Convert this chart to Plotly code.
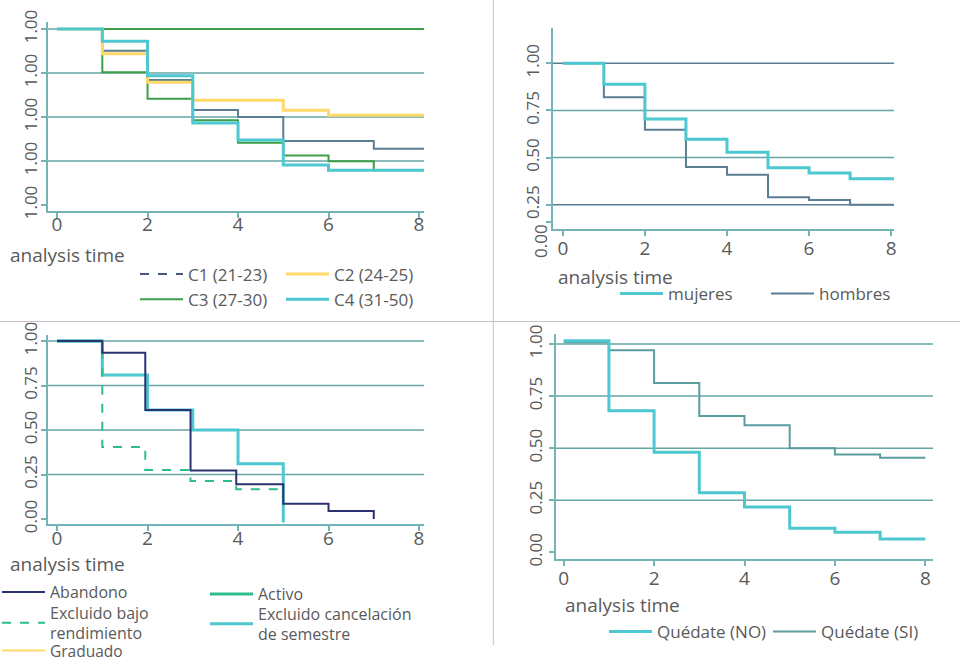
import plotly.graph_objects as go

# ---------------- data ----------------
# Top-left: age cohorts
tl_time = [0, 1, 2, 3, 4, 5, 6, 7, 8.11]
tl_c1 = [1.0, 0.877, 0.71, 0.54, 0.50, 0.364, 0.364, 0.32, 0.32]
tl_c2 = [1.0, 0.86, 0.697, 0.595, 0.595, 0.538, 0.51, 0.51, 0.51]
tl_c3 = [1.0, 0.754, 0.604, 0.481, 0.354, 0.282, 0.248, 0.197, 0.197]
tl_c4 = [1.0, 0.93, 0.735, 0.466, 0.37, 0.227, 0.197, 0.197, 0.197]
tl_c3_top_time = [0, 8.11]
tl_c3_top = [1.0, 1.0]
tl_names = ["C1 (21-23)", "C2 (24-25)", "C3 (27-30)", "C4 (31-50)"]
tl_ytick_vals = [0, 0.25, 0.5, 0.75, 1.0]
tl_ytick_text = ["1.00", "1.00", "1.00", "1.00", "1.00"]

# Top-right: sex
tr_time = [0, 1, 2, 3, 4, 5, 6, 7, 8.07]
tr_mujeres = [1.0, 0.889, 0.705, 0.597, 0.528, 0.446, 0.418, 0.388, 0.388]
tr_hombres = [1.0, 0.82, 0.648, 0.45, 0.409, 0.29, 0.275, 0.25, 0.25]
tr_ytick_vals = [0.16, 0.25, 0.5, 0.75, 1.0]
tr_ytick_text = ["0.00", "0.25", "0.50", "0.75", "1.00"]

# Bottom-left: status
bl_abandono_t = [0, 1, 1.95, 2.95, 3.96, 5, 6, 7]
bl_abandono = [1.0, 0.934, 0.612, 0.273, 0.195, 0.086, 0.045, 0.0]
bl_bajo_t = [0, 1, 1.95, 2.95, 3.96, 5]
bl_bajo = [1.0, 0.404, 0.275, 0.213, 0.167, 0.167]
bl_cancel_t = [0, 1, 2, 3, 4, 5]
bl_cancel = [1.0, 0.809, 0.612, 0.5, 0.311, -0.02]
bl_activo_t = [0, 1]
bl_activo = [1.0, 1.0]
bl_graduado_t = [0, 1]
bl_graduado = [1.0, 1.0]

# Bottom-right: Quédate
br_time = [0, 1, 2, 3, 4, 5, 6, 7, 8]
br_no = [1.016, 0.68, 0.48, 0.286, 0.217, 0.115, 0.096, 0.064, 0.064]
br_si = [1.008, 0.97, 0.813, 0.654, 0.61, 0.50, 0.469, 0.454, 0.454]

std_ytick_vals = [0, 0.25, 0.5, 0.75, 1.0]
std_ytick_text = ["0.00", "0.25", "0.50", "0.75", "1.00"]
xtick_vals = [0, 2, 4, 6, 8]
grid_vals = [0.25, 0.5, 0.75, 1.0]

# ---------------- style ----------------
CYAN = "#4ec8d0"
NAVY = "#2c3270"
SLATE = "#5b7e93"
YELLOW = "#ffd96a"
GREEN = "#3c9f48"
MINT = "#2dbd88"
TEAL_SI = "#5b9c9e"
GRID = "#66a4a6"
AXIS = "#74b4b6"
TXT = "#5a5a5a"
FONT = "Open Sans"

fig = go.Figure()


def step(x, y, xa, ya, name, color, width, legend, dash="solid", showlegend=True, rank=1000):
    fig.add_trace(go.Scatter(x=x, y=y, mode="lines", line_shape="hv", name=name,
                             line=dict(color=color, width=width, dash=dash),
                             xaxis=xa, yaxis=ya, legend=legend, legendrank=rank,
                             showlegend=showlegend, hoverinfo="skip"))


# top-left
step(tl_c3_top_time, tl_c3_top, "x", "y", "", GREEN, 2, "legend", showlegend=False)
step(tl_time, tl_c3, "x", "y", tl_names[2], GREEN, 2, "legend", rank=2)
step(tl_time, tl_c1, "x", "y", tl_names[0], SLATE, 2, "legend", showlegend=False)
step(tl_time, tl_c2, "x", "y", tl_names[1], YELLOW, 3, "legend2", rank=1)
step(tl_time, tl_c4, "x", "y", tl_names[3], CYAN, 3, "legend2", rank=2)
# legend-only entry for C1 (dashed)
fig.add_trace(go.Scatter(x=[None], y=[None], mode="lines", name=tl_names[0],
                         line=dict(color="#4a5584", width=2, dash="dash"),
                         xaxis="x", yaxis="y", legend="legend", legendrank=1))

# top-right
step(tr_time, tr_hombres, "x2", "y2", "hombres", SLATE, 2, "legend4")
step(tr_time, tr_mujeres, "x2", "y2", "mujeres", CYAN, 3, "legend3")

# bottom-left
step(bl_graduado_t, bl_graduado, "x3", "y3", "Graduado", YELLOW, 2, "legend10")
step(bl_activo_t, bl_activo, "x3", "y3", "Activo", MINT, 3, "legend6")
step(bl_cancel_t, bl_cancel, "x3", "y3", "Excluido cancelación<br>de semestre", CYAN, 3, "legend11")
step(bl_bajo_t, bl_bajo, "x3", "y3", "Excluido bajo<br>rendimiento", MINT, 2, "legend9", dash="dash")
step(bl_abandono_t, bl_abandono, "x3", "y3", "Abandono", NAVY, 2, "legend5")

# bottom-right
step(br_time, br_si, "x4", "y4", "Quédate (SI)", TEAL_SI, 2, "legend8")
step(br_time, br_no, "x4", "y4", "Quédate (NO)", CYAN, 3, "legend7")

# ---------------- axes ----------------
W, H = 960, 660


def px_x(a, b):
    return [a / W, b / W]


def px_y(top, bottom):
    return [1 - bottom / H, 1 - top / H]


def xaxis(domain, rng, anchor, standoff):
    return dict(domain=domain, range=rng, anchor=anchor, tickvals=xtick_vals, automargin=False,
                showgrid=False, zeroline=False, showline=True, linecolor=AXIS, linewidth=1.5,
                ticks="outside", ticklen=5, tickwidth=1.5, tickcolor=AXIS,
                ticklabelstandoff=standoff,
                tickfont=dict(size=19, color=TXT, family=FONT))


def yaxis(domain, rng, anchor, vals, text, standoff=0):
    return dict(domain=domain, range=rng, anchor=anchor, tickvals=vals, ticktext=text,
                automargin=False, ticklabelstandoff=standoff,
                tickangle=-90, showgrid=False, zeroline=False, showline=True,
                linecolor=AXIS, linewidth=1.5, ticks="outside", ticklen=5, tickwidth=1.5,
                tickcolor=AXIS, tickfont=dict(size=17, color=TXT, family=FONT))


tr_text_axis = [""] + tr_ytick_text[1:]

fig.update_layout(
    xaxis=xaxis(px_x(48, 424), [-0.2, 8.11], "y", -10),
    yaxis=yaxis(px_y(22, 211), [-0.034, 1.04], "x", tl_ytick_vals, tl_ytick_text, -3),
    xaxis2=xaxis(px_x(553, 894), [-0.24, 8.07], "y2", -4),
    yaxis2=yaxis(px_y(28, 229), [0.121, 1.187], "x2", tr_ytick_vals, tr_text_axis),
    xaxis3=xaxis(px_x(48, 424), [-0.2, 8.11], "y3", -9),
    yaxis3=yaxis(px_y(335, 524), [-0.028, 1.034], "x3", std_ytick_vals, std_ytick_text, -3),
    xaxis4=xaxis(px_x(556, 933), [-0.17, 8.17], "y4", -4),
    yaxis4=yaxis(px_y(334, 559), [-0.032, 1.048], "x4", std_ytick_vals, std_ytick_text),
)

# gridlines as shapes (no line at 0)
shapes = []
grid_colors = {"x": [GRID] * 4, "x2": [SLATE, GRID, GRID, SLATE], "x3": [GRID] * 4, "x4": [GRID] * 4}
for xa, ya in [("x", "y"), ("x2", "y2"), ("x3", "y3"), ("x4", "y4")]:
    for g, c in zip(grid_vals, grid_colors[xa]):
        shapes.append(dict(type="line", xref=f"{xa} domain", yref=ya, x0=0, x1=1, y0=g, y1=g,
                           line=dict(color=c, width=1.5), layer="below"))
# panel dividers
shapes.append(dict(type="line", xref="paper", yref="paper", x0=0, x1=1, y0=1 - 321.5 / H, y1=1 - 321.5 / H,
                   line=dict(color="#c4c4c4", width=1)))
shapes.append(dict(type="line", xref="paper", yref="paper", x0=493.3 / W, x1=493.3 / W, y0=1, y1=1 - 645 / H,
                   line=dict(color="#c4c4c4", width=1)))
fig.update_layout(shapes=shapes)

# annotations
annos = []
for x0, yc in [(8, 255), (556, 277), (8, 564), (563, 605)]:
    annos.append(dict(text="analysis time", xref="paper", yref="paper", x=x0 / W, y=1 - yc / H,
                      xanchor="left", yanchor="middle", showarrow=False,
                      font=dict(size=19, color=TXT, family=FONT)))
annos.append(dict(text=tr_ytick_text[0], xref="paper", yref="paper", x=540 / W, y=1 - 241 / H,
                  xanchor="center", yanchor="middle", textangle=-90, showarrow=False,
                  font=dict(size=17, color=TXT, family=FONT)))
fig.update_layout(annotations=annos)


def leg(xpx, ymid, size=17):
    return dict(x=xpx / W, y=1 - ymid / H, xanchor="left", yanchor="middle", orientation="v",
                bgcolor="rgba(0,0,0,0)", itemwidth=43, tracegroupgap=0,
                font=dict(size=size, color=TXT, family=FONT))


fig.update_layout(
    legend=leg(135, 287),
    legend2=leg(281, 287),
    legend3=leg(615, 294),
    legend4=leg(766, 294),
    legend5=leg(-3, 592, 16),
    legend9=leg(-3, 623, 16),
    legend10=leg(-3, 651, 15.5),
    legend6=leg(205, 594, 16),
    legend11=leg(205, 624, 16),
    legend7=leg(604, 632),
    legend8=leg(768, 632),
)

fig.update_layout(width=W, height=H, margin=dict(l=0, r=0, t=0, b=0, autoexpand=False),
                  paper_bgcolor="white", plot_bgcolor="white",
                  font=dict(family=FONT, color=TXT))

fig.write_html("out.html")
